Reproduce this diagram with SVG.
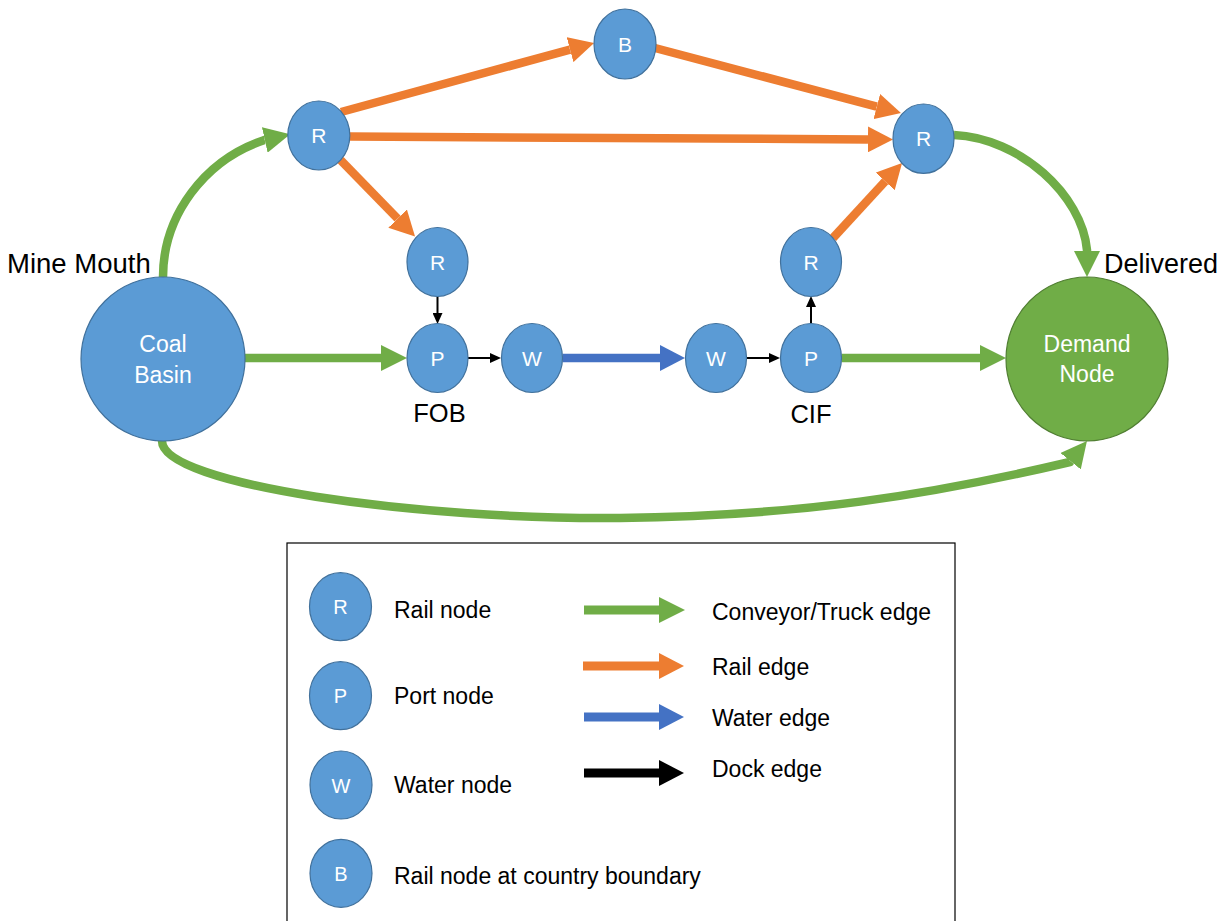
<svg xmlns="http://www.w3.org/2000/svg" width="1229" height="921" viewBox="0 0 1229 921">
<style>
text{font-family:"Liberation Sans",Arial,sans-serif}
.node{fill:#5B9BD5;stroke:#41719C;stroke-width:1.2}
.dem{fill:#70AD47;stroke:#507E32;stroke-width:1.2}
.nl{fill:#fff;font-size:21px;text-anchor:middle}
.bl{fill:#fff;font-size:23px;text-anchor:middle}
.lab{fill:#000;font-size:25.5px}
.leg{fill:#000;font-size:23px}
.g{stroke:#70AD47;stroke-width:8.5;fill:none}
.o{stroke:#ED7D31;stroke-width:8.5;fill:none}
.b{stroke:#4472C4;stroke-width:8.5;fill:none}
.k{stroke:#000;stroke-width:2;fill:none}
.kl{stroke:#000;stroke-width:9;fill:none}
</style>
<defs>
<marker id="ag" markerUnits="userSpaceOnUse" markerWidth="26" markerHeight="26" viewBox="0 0 26 26" refX="0" refY="13" orient="auto"><path d="M0,0 L26,13 L0,26 z" fill="#70AD47"/></marker>
<marker id="ao" markerUnits="userSpaceOnUse" markerWidth="26" markerHeight="26" viewBox="0 0 26 26" refX="0" refY="13" orient="auto"><path d="M0,0 L25,13 L0,26 z" fill="#ED7D31"/></marker>
<marker id="ab" markerUnits="userSpaceOnUse" markerWidth="26" markerHeight="26" viewBox="0 0 26 26" refX="0" refY="13" orient="auto"><path d="M0,0 L25,13 L0,26 z" fill="#4472C4"/></marker>
<marker id="ak" markerUnits="userSpaceOnUse" markerWidth="26" markerHeight="26" viewBox="0 0 26 26" refX="0" refY="13" orient="auto"><path d="M0,0 L25,13 L0,26 z" fill="#000"/></marker>
<marker id="as" markerUnits="userSpaceOnUse" markerWidth="11" markerHeight="10" viewBox="0 0 11 10" refX="0" refY="5" orient="auto"><path d="M0,0 L11,5 L0,10 z" fill="#000"/></marker>
</defs>

<g id="connectors">
<path class="g" d="M163 277 C163 215 205 160 263.8 140.2 l0.98 -0.22" marker-end="url(#ag)"/>
<path class="o" d="M341 112 L570 49.6" marker-end="url(#ao)"/>
<path class="o" d="M350 136.5 L868 139.4" marker-end="url(#ao)"/>
<path class="o" d="M655 48 L876.8 106.6" marker-end="url(#ao)"/>
<path class="o" d="M340.5 160 L397.6 218.6" marker-end="url(#ao)"/>
<path class="o" d="M833 238 L885.1 181.4" marker-end="url(#ao)"/>
<path class="g" d="M954 135 C1020 138 1082 195 1087 250 l0 1" marker-end="url(#ag)"/>
<path class="g" d="M245 358 L381 358" marker-end="url(#ag)"/>
<path class="k" d="M437.5 296.5 L437.5 313" marker-end="url(#as)"/>
<path class="k" d="M468 358 L490 358" marker-end="url(#as)"/>
<path class="b" d="M562.5 358 L660 358" marker-end="url(#ab)"/>
<path class="k" d="M746.5 358 L769 358" marker-end="url(#as)"/>
<path class="k" d="M811 323.5 L811 307" marker-end="url(#as)"/>
<path class="g" d="M841.5 358 L980 358" marker-end="url(#ag)"/>
<path class="g" d="M162 441 C162 485 420 520 620 518 C800 516 930 495 1070 462 l0.63 -0.78" marker-end="url(#ag)"/>
</g>

<g id="coal-basin"><ellipse class="node" cx="163" cy="359" rx="82" ry="82"/><text class="bl" x="163" y="352">Coal</text><text class="bl" x="163" y="383">Basin</text></g>
<g id="demand-node"><ellipse class="dem" cx="1087" cy="359" rx="81" ry="82"/><text class="bl" x="1087" y="352">Demand</text><text class="bl" x="1087" y="382">Node</text></g>
<g id="r1"><ellipse class="node" cx="318.8" cy="135.5" rx="31" ry="34.5"/><text class="nl" x="318.8" y="143">R</text></g>
<g id="b1"><ellipse class="node" cx="625" cy="44" rx="31" ry="35"/><text class="nl" x="625" y="51.5">B</text></g>
<g id="r2"><ellipse class="node" cx="923.5" cy="138.7" rx="30.5" ry="34.7"/><text class="nl" x="923.5" y="146">R</text></g>
<g id="r3"><ellipse class="node" cx="437.5" cy="262" rx="30.5" ry="34.5"/><text class="nl" x="437.5" y="269.5">R</text></g>
<g id="r4"><ellipse class="node" cx="811" cy="262" rx="30.5" ry="34.5"/><text class="nl" x="811" y="269.5">R</text></g>
<g id="p1"><ellipse class="node" cx="437.5" cy="358" rx="30.5" ry="34.5"/><text class="nl" x="437.5" y="365.5">P</text></g>
<g id="w1"><ellipse class="node" cx="532" cy="358" rx="30.5" ry="34.5"/><text class="nl" x="532" y="365.5">W</text></g>
<g id="w2"><ellipse class="node" cx="716" cy="358" rx="30.5" ry="34.5"/><text class="nl" x="716" y="365.5">W</text></g>
<g id="p2"><ellipse class="node" cx="811" cy="358" rx="30.5" ry="34.5"/><text class="nl" x="811" y="365.5">P</text></g>

<g id="labels">
<text class="lab" x="7" y="273" style="font-size:27.5px">Mine Mouth</text>
<text class="lab" x="1104" y="273" style="font-size:27px">Delivered</text>
<text class="lab" x="439.5" y="422" text-anchor="middle">FOB</text>
<text class="lab" x="811" y="423" text-anchor="middle">CIF</text>
</g>

<g id="legend">
<rect x="287" y="543" width="668" height="400" fill="#fff" stroke="#000" stroke-width="1.2"/>
<g id="leg-r"><ellipse class="node" cx="340.5" cy="606.7" rx="31" ry="34"/><text class="nl" x="340.5" y="614" style="font-size:20px">R</text><text class="leg" x="394" y="618">Rail node</text></g>
<g id="leg-p"><ellipse class="node" cx="340.5" cy="695.7" rx="31" ry="34"/><text class="nl" x="340.5" y="703" style="font-size:20px">P</text><text class="leg" x="394" y="704">Port node</text></g>
<g id="leg-w"><ellipse class="node" cx="341" cy="785" rx="31" ry="34"/><text class="nl" x="341" y="792.5" style="font-size:20px">W</text><text class="leg" x="394" y="793">Water node</text></g>
<g id="leg-b"><ellipse class="node" cx="341" cy="873.3" rx="31" ry="34"/><text class="nl" x="341" y="880.5" style="font-size:20px">B</text><text class="leg" x="394" y="884">Rail node at country boundary</text></g>
<g id="leg-edges">
<path class="g" style="stroke-width:9" d="M584 610 L659 610" marker-end="url(#ag)"/>
<path class="o" style="stroke-width:9" d="M583 666 L659 666" marker-end="url(#ao)"/>
<path class="b" style="stroke-width:9" d="M584 717 L659 717" marker-end="url(#ab)"/>
<path class="kl" d="M584 773 L659 773" marker-end="url(#ak)"/>
<text class="leg" x="712" y="620">Conveyor/Truck edge</text>
<text class="leg" x="712" y="675">Rail edge</text>
<text class="leg" x="712" y="726">Water edge</text>
<text class="leg" x="712" y="777">Dock edge</text>
</g>
</g>
</svg>
